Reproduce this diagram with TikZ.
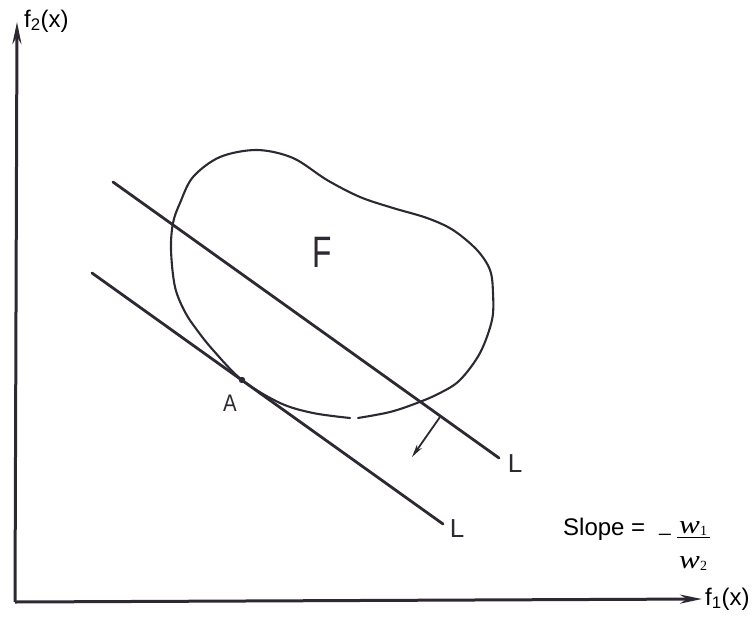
\documentclass[tikz,border=0pt]{standalone}
\usepackage{fontspec}
\setmainfont{Liberation Sans}
\newfontfamily\tms{Liberation Serif}
\usetikzlibrary{arrows.meta}
\definecolor{ink}{RGB}{45,40,50}
\begin{document}
\begin{tikzpicture}[x=1pt,y=-1pt,
  axis/.style={line width=3pt, draw=ink, -{Stealth[length=22pt,width=9pt]}},
  lline/.style={line width=2.8pt, draw=ink, line cap=round},
  curve/.style={line width=2.1pt, draw=ink, line cap=round},
  lbl/.style={font=\fontsize{24}{24}\selectfont, inner sep=0pt},
  hand/.style={text=ink, inner sep=0pt},
  frac/.style={font=\tms\fontsize{26}{26}\selectfont, inner sep=0pt}]
\useasboundingbox (0,0) rectangle (753,619);
% axes
\coordinate (O) at (15,602);
\coordinate (Y) at (17,22);
\coordinate (X) at (702,599);
\draw[axis] (O) -- (Y);
\draw[axis] (O) -- (X);
\node[lbl, anchor=west] (f2) at (24,21) {f\textsubscript{2}(x)};
\node[lbl, anchor=west] (f1) at (705,599) {f\textsubscript{1}(x)};
% lines L
\coordinate (u1) at (113,182);
\coordinate (u2) at (499,458);
\coordinate (l1) at (92,273);
\coordinate (l2) at (443,524);
\draw[lline] (u1) -- (u2);
\draw[lline] (l1) -- (l2);
\node[hand, font=\fontsize{26}{26}\selectfont] (Lu) at (515,464) {L};
\node[hand, font=\fontsize{26}{26}\selectfont] (Ll) at (457,529) {L};
% feasible region F
\draw[curve] plot[smooth, tension=0.55] coordinates {
  (358,418) (390,412) (417,403) (440,393) (460,380) (480,353) (492,320)
  (493,293) (490,270) (477,250) (453,230) (427,218) (393,208) (360,197)
  (327,180) (293,158) (257,150) (220,157) (193,177) (180,203)
  (173,223) (171,250) (175,287) (185,312) (197,330) (213,350) (242,380)
  (280,403) (313,413) (350,418)};
\node[hand, font=\fontsize{44}{44}\selectfont] (F) at (322,252) {\scalebox{0.72}[1]{F}};
% point A
\fill[ink] (242,380) circle (3.2pt);
\coordinate (Apt) at (242,380);
\node[hand, font=\fontsize{24}{24}\selectfont] (A) at (230,403) {\scalebox{0.85}[1]{A}};
% direction arrow
\coordinate (as) at (440,417);
\coordinate (ae) at (412,457);
\draw[line width=1.8pt, draw=ink, -{Stealth[length=13pt,width=6pt]}] (as) -- (ae);
% slope text
\node[lbl, anchor=base west] (slope) at (563,535) {Slope =};
\node[frac, anchor=base] (minus) at (665,543) {−};
\coordinate (b1) at (677,537);
\coordinate (b2) at (710,537);
\draw[line width=0.9pt] (b1) -- (b2);
\node[frac, anchor=base west] (w1) at (679,533) {\scalebox{1.2}[1]{\itshape w}\raisebox{-2pt}{\fontsize{14}{14}\selectfont 1}};
\node[frac, anchor=base west] (w2) at (679,568) {\scalebox{1.2}[1]{\itshape w}\raisebox{-2pt}{\fontsize{14}{14}\selectfont 2}};
\end{tikzpicture}
\end{document}
